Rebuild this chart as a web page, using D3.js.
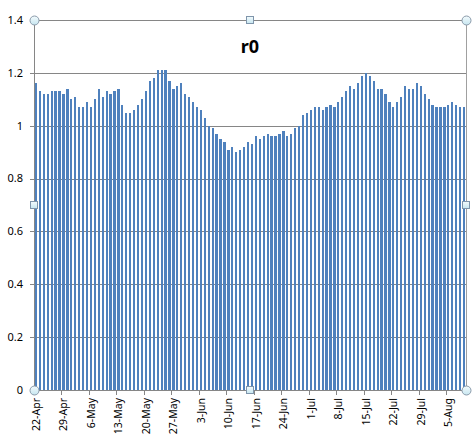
<!DOCTYPE html>
<html><head><meta charset="utf-8">
<script src="https://cdn.jsdelivr.net/npm/d3@7"></script>
<style>
html,body{margin:0;padding:0;background:#fff;}
svg{display:block;}
text{font-family:"Noto Sans","Open Sans",sans-serif;}
</style></head>
<body><svg id="c" width="476" height="437"></svg>
<script>
const title = "r0";
const startDate = "2013-04-22";
const endDate = "2013-08-09";
const values = [
1.16,1.13,1.12,1.12,1.13,1.13,1.13,1.12,1.14,1.10,
1.11,1.07,1.07,1.09,1.07,1.10,1.14,1.11,1.13,1.12,
1.13,1.14,1.08,1.05,1.05,1.06,1.08,1.10,1.13,1.17,
1.18,1.21,1.21,1.21,1.17,1.14,1.15,1.16,1.12,1.11,
1.09,1.07,1.06,1.03,1.00,0.99,0.97,0.95,0.94,0.91,
0.92,0.90,0.91,0.92,0.94,0.93,0.96,0.95,0.96,0.97,
0.96,0.96,0.97,0.98,0.96,0.97,0.99,1.00,1.04,1.05,
1.06,1.07,1.07,1.06,1.07,1.08,1.07,1.09,1.11,1.13,
1.15,1.14,1.16,1.19,1.20,1.19,1.17,1.14,1.14,1.12,
1.09,1.07,1.09,1.11,1.15,1.14,1.14,1.16,1.15,1.12,
1.10,1.08,1.07,1.07,1.07,1.08,1.09,1.08,1.07,1.07];
const yTicks = [0,0.2,0.4,0.6,0.8,1,1.2,1.4];
const xTickLabels = ["22-Apr","29-Apr","6-May","13-May","20-May","27-May","3-Jun","10-Jun","17-Jun","24-Jun","1-Jul","8-Jul","15-Jul","22-Jul","29-Jul","5-Aug"];

const parse = d3.timeParse("%Y-%m-%d");
const dates = d3.timeDay.range(parse(startDate), d3.timeDay.offset(parse(endDate),1));
const fmt = d3.timeFormat("%-d-%b");
const cats = dates.map(fmt);
const data = cats.map((c,i)=>({c, v: values[i]}));

const L = 34, R = 466, T = 20, B = 390;
const svg = d3.select("#c");
const x = d3.scaleBand().domain(cats).range([L, R]).paddingInner(0.43).paddingOuter(0.215);
const y = d3.scaleLinear().domain([0, 1.4]).range([B, T]);
const step = x.step();
const gap = (step - x.bandwidth())/2;
const grid = "#868686";

// gridlines with tick marks to the left
svg.append("g").selectAll("line").data(yTicks).join("line")
  .attr("x1", L-4).attr("x2", R).attr("y1", d=>Math.round(y(d))+0.5).attr("y2", d=>Math.round(y(d))+0.5)
  .attr("stroke", grid).attr("stroke-width", 1);
svg.append("line").attr("x1", R+0.5).attr("x2", R+0.5).attr("y1", T).attr("y2", B).attr("stroke", "#a0a0a0");

// bars
svg.append("g").attr("shape-rendering", "crispEdges").selectAll("rect").data(data).join("rect")
  .attr("x", d=>x(d.c)).attr("width", x.bandwidth())
  .attr("y", d=>y(d.v)).attr("height", d=>B - y(d.v))
  .attr("fill", "#4f81bd");

// y axis line
svg.append("line").attr("x1", L+0.5).attr("x2", L+0.5).attr("y1", T).attr("y2", B+0.5).attr("stroke", grid);

// y labels
svg.append("g").selectAll("text").data(yTicks).join("text")
  .attr("x", 23).attr("y", d=>y(d)).attr("dy", "0.35em").attr("text-anchor", "end")
  .attr("font-size", 11).attr("fill", "#000").text(d=>d3.format("")(d));

// x ticks and labels
const labelCats = cats.filter(c => xTickLabels.includes(c));
svg.append("g").selectAll("line").data(labelCats).join("line")
  .attr("x1", d=>Math.round(x(d)-gap)+0.5).attr("x2", d=>Math.round(x(d)-gap)+0.5)
  .attr("y1", B).attr("y2", B+5).attr("stroke", grid);
svg.append("g").selectAll("text").data(labelCats).join("text")
  .attr("transform", d=>`translate(${x(d)+x.bandwidth()/2+4},${B+8}) rotate(-90)`)
  .attr("text-anchor", "end").attr("font-size", 10.5).attr("fill", "#000").text(d=>d);

// title
svg.append("text").attr("x", 250).attr("y", 53).attr("text-anchor", "middle")
  .attr("font-size", 18).attr("font-weight", "bold").attr("fill", "#000").text(title);

// selection handles
const circ = [[L,T],[R,T],[L,B],[R,B]];
const sq = [[(L+R)/2,T],[L,(T+B)/2],[R,(T+B)/2],[(L+R)/2,B]];
const defs = svg.append("defs");
const lg = defs.append("linearGradient").attr("id","hg").attr("x1",0).attr("y1",0).attr("x2",0).attr("y2",1);
lg.append("stop").attr("offset","0%").attr("stop-color","#f4fbfd");
lg.append("stop").attr("offset","100%").attr("stop-color","#c6e6f0");
svg.append("g").selectAll("circle").data(circ).join("circle")
  .attr("cx", d=>d[0]+0.5).attr("cy", d=>d[1]+0.5).attr("r", 4.5)
  .attr("fill", "url(#hg)").attr("stroke", "#8a9aaa");
svg.append("g").selectAll("rect").data(sq).join("rect")
  .attr("x", d=>Math.round(d[0])-3.5).attr("y", d=>Math.round(d[1])-3.5).attr("width", 7).attr("height", 7)
  .attr("fill", "url(#hg)").attr("stroke", "#7f95ab");
</script></body></html>
